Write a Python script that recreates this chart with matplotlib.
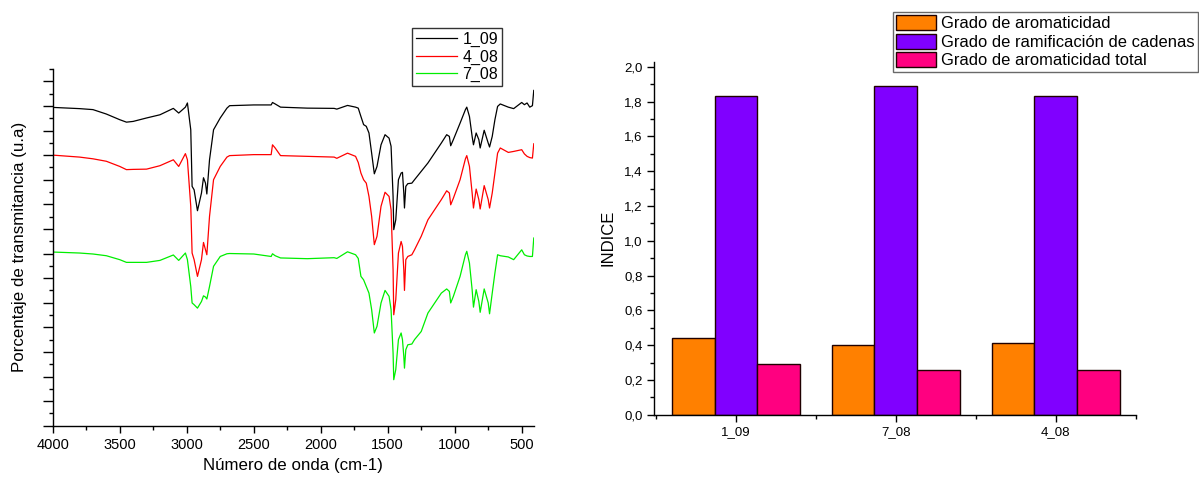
import numpy as np
import matplotlib
matplotlib.use('Agg')
import matplotlib.pyplot as plt
from matplotlib.ticker import MultipleLocator, FixedLocator, FuncFormatter, NullFormatter

plt.rcParams['font.family'] = ['Liberation Sans', 'DejaVu Sans']

# IR spectra (arbitrary units, one unit = one major tick)
wavenumber = [4000, 3800, 3700, 3600, 3500, 3450, 3400, 3300, 3200, 3100, 3060, 3010, 2995,
              2970, 2960, 2945, 2920, 2890, 2875, 2860, 2850, 2830, 2800, 2750, 2700, 2680,
              2500, 2370, 2360, 2340, 2300, 2100, 1900, 1880, 1800, 1740, 1720, 1700, 1680,
              1660, 1640, 1620, 1600, 1580, 1550, 1520, 1490, 1475, 1460, 1455, 1440, 1420,
              1400, 1390, 1380, 1375, 1365, 1350, 1320, 1300, 1250, 1200, 1100, 1060, 1040,
              1030, 1010, 960, 920, 910, 890, 870, 860, 840, 820, 810, 780, 750, 740, 720,
              700, 680, 660, 600, 560, 500, 480, 460, 440, 420, 410]

t_1_09 = [12.94, 12.89, 12.85, 12.67, 12.44, 12.34, 12.37, 12.51, 12.64, 12.90, 12.71, 12.95, 13.12,
          12.03, 9.73, 9.59, 8.74, 9.46, 10.08, 9.86, 9.42, 10.81, 12.03, 12.51, 12.91, 13.01,
          13.04, 13.04, 13.14, 13.08, 12.95, 12.91, 12.90, 12.87, 13.02, 12.95, 12.91, 12.57, 12.24,
          12.17, 11.90, 11.08, 10.24, 10.54, 11.42, 11.83, 11.69, 11.36, 9.32, 7.97, 8.37, 10.00,
          10.27, 10.30, 9.46, 8.85, 9.73, 9.84, 9.86, 10.00, 10.34, 10.68, 11.49, 11.83, 11.76,
          11.38, 11.63, 12.30, 12.85, 12.95, 12.57, 11.76, 11.42, 11.90, 11.63, 11.29, 12.01, 11.49, 11.33, 11.76,
          12.44, 12.98, 13.08, 12.95, 12.89, 13.14, 13.05, 13.12, 12.95, 13.01, 13.63]

t_4_08 = [11.00, 10.92, 10.85, 10.75, 10.54, 10.41, 10.42, 10.43, 10.57, 10.81, 10.54, 11.06, 10.81,
          8.92, 7.02, 6.75, 6.07, 6.75, 7.45, 7.15, 6.95, 8.51, 10.00, 10.54, 10.92, 10.98,
          11.02, 11.02, 11.42, 11.29, 10.98, 10.95, 10.92, 10.87, 11.08, 10.95, 10.70, 10.27, 10.00,
          9.86, 9.32, 8.51, 7.36, 7.70, 8.92, 9.49, 9.32, 8.78, 6.34, 4.51, 5.12, 7.02,
          7.49, 7.29, 6.34, 5.50, 6.75, 6.88, 6.95, 7.15, 7.70, 8.37, 9.19, 9.55, 9.46,
          8.98, 9.25, 10.00, 10.85, 10.98, 10.54, 9.46, 8.85, 9.62, 9.19, 8.81, 9.76, 9.19, 8.85, 9.46,
          10.27, 11.08, 11.29, 11.11, 11.15, 11.22, 11.05, 10.95, 10.90, 10.88, 11.46]

t_7_08 = [7.06, 7.02, 6.98, 6.91, 6.75, 6.64, 6.64, 6.64, 6.72, 6.94, 6.72, 7.02, 6.75,
          5.66, 4.99, 4.92, 4.78, 5.05, 5.28, 5.23, 5.15, 5.66, 6.48, 6.88, 6.99, 7.00,
          6.98, 6.88, 6.99, 6.91, 6.82, 6.79, 6.83, 6.80, 7.07, 6.95, 6.80, 6.07, 5.93,
          5.66, 5.39, 4.72, 3.77, 4.04, 4.99, 5.50, 5.26, 4.72, 2.95, 1.87, 2.28, 3.50,
          3.77, 3.50, 2.82, 2.34, 3.09, 3.29, 3.32, 3.50, 3.83, 4.58, 5.39, 5.56, 5.46,
          4.99, 5.26, 6.07, 6.95, 7.09, 6.61, 5.53, 4.82, 5.53, 5.05, 4.61, 5.56, 4.99, 4.55, 5.39,
          6.21, 6.95, 6.91, 6.86, 6.75, 7.15, 6.95, 6.90, 6.88, 6.88, 7.63]

# bar chart values
samples = ['1_09', '7_08', '4_08']
aromaticidad = [0.44, 0.40, 0.41]
ramificacion = [1.83, 1.89, 1.83]
aromaticidad_total = [0.29, 0.26, 0.26]
bar_labels = ['Grado de aromaticidad', 'Grado de ramificación de cadenas', 'Grado de aromaticidad total']
bar_colors = ['#FF8000', '#8000FF', '#FF0080']


def style_axes(ax):
    for side in ['top', 'right']:
        ax.spines[side].set_visible(False)
    for side in ['left', 'bottom']:
        ax.spines[side].set_linewidth(1.0)
    ax.tick_params(which='major', direction='out', length=5, width=1.0)
    ax.tick_params(which='minor', direction='out', length=3, width=1.0)


def comma_fmt(v, pos):
    return ('%.1f' % v).replace('.', ',')


fig = plt.figure(figsize=(11.99, 4.78), dpi=100)

# ---- left: spectra
ax1 = fig.add_axes([0.0440, 0.1094, 0.4014, 0.7462])
ax1.plot(wavenumber, t_1_09, color='black', lw=0.9, label='1_09')
ax1.plot(wavenumber, t_4_08, color='red', lw=0.9, label='4_08')
ax1.plot(wavenumber, t_7_08, color='#00ee00', lw=0.9, label='7_08')
ax1.set_xlim(4000, 408)
ax1.set_ylim(0, 14.5)
ax1.xaxis.set_major_locator(MultipleLocator(500))
ax1.xaxis.set_minor_locator(MultipleLocator(250))
ax1.yaxis.set_major_locator(MultipleLocator(1))
ax1.yaxis.set_minor_locator(MultipleLocator(0.5))
ax1.yaxis.set_major_formatter(NullFormatter())
style_axes(ax1)
ax1.tick_params(axis='x', labelsize=10.5)
ax1.tick_params(axis='y', which='major', length=7)
ax1.set_xlabel('Número de onda (cm-1)', fontsize=12.2, labelpad=5)
ax1.set_ylabel('Porcentaje de transmitancia (u.a)', fontsize=12.2, labelpad=8)
leg1 = ax1.legend(loc='upper left', bbox_to_anchor=(0.3436, 0.9414), bbox_transform=fig.transFigure,
                  fontsize=11.5, frameon=True, fancybox=False, handlelength=2.6, handletextpad=0.3,
                  labelspacing=0.15, borderpad=0.25, borderaxespad=0)
leg1.get_frame().set_edgecolor('black')
leg1.get_frame().set_linewidth(1.0)

# ---- right: bars
ax2 = fig.add_axes([0.5457, 0.1324, 0.4015, 0.7385])
x = np.arange(len(samples))
w = 0.8 / 3
for i, vals in enumerate([aromaticidad, ramificacion, aromaticidad_total]):
    ax2.bar(x + (i - 1) * w, vals, w, color=bar_colors[i], edgecolor='#200000',
            linewidth=1.0, label=bar_labels[i])
ax2.set_xlim(-0.51, 2.5)
ax2.set_ylim(0, 2.03)
ax2.set_xticks(x)
ax2.set_xticklabels(samples)
ax2.xaxis.set_minor_locator(FixedLocator([-0.5, 0.5, 1.5, 2.5]))
ax2.yaxis.set_major_locator(MultipleLocator(0.2))
ax2.yaxis.set_minor_locator(MultipleLocator(0.1))
ax2.yaxis.set_major_formatter(FuncFormatter(comma_fmt))
style_axes(ax2)
ax2.tick_params(labelsize=9.5)
ax2.set_ylabel('INDICE', fontsize=12, labelpad=6)
leg2 = ax2.legend(loc='upper left', bbox_to_anchor=(0.7448, 0.9749), bbox_transform=fig.transFigure,
                  fontsize=11.9, frameon=True, fancybox=False, handlelength=2.4, handleheight=1.0,
                  handletextpad=0.3, labelspacing=0.15, borderpad=0.2, borderaxespad=0)
leg2.get_frame().set_edgecolor('#444444')
leg2.get_frame().set_linewidth(1.0)

fig.savefig('out.png', dpi=100, facecolor='white')
plt.close()
